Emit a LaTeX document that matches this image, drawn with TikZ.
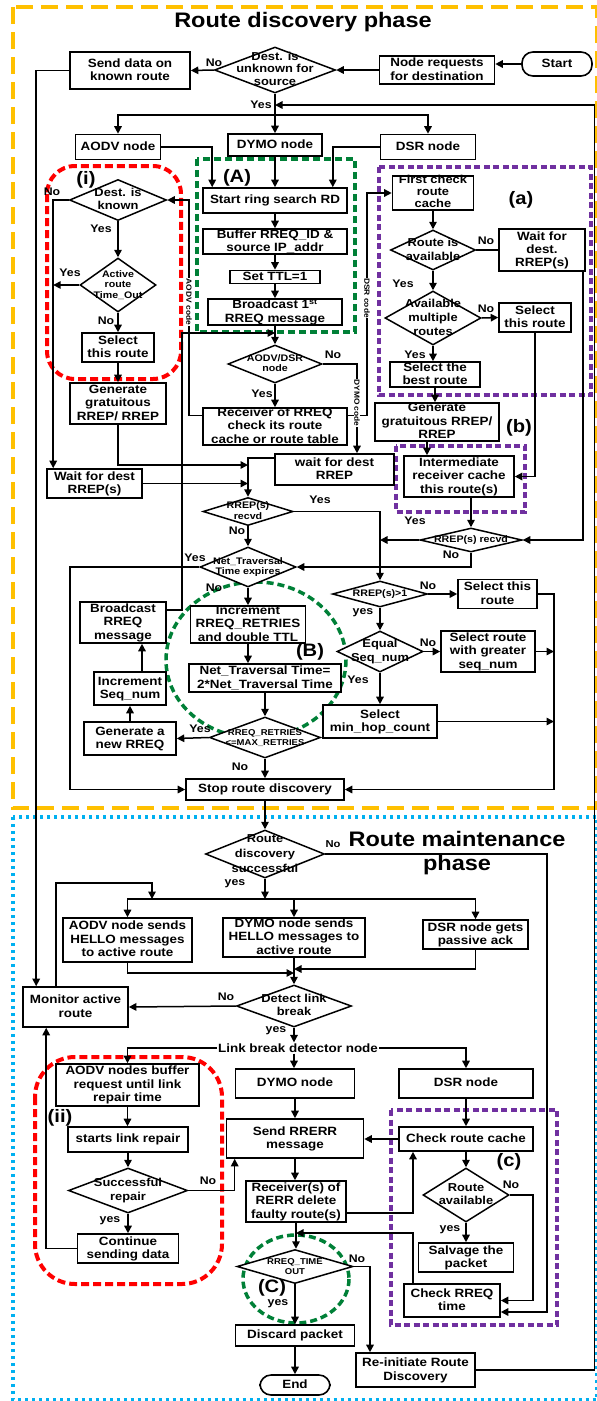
\documentclass[tikz,border=0pt]{standalone}
\usepackage{fontspec}
\setmainfont{Liberation Sans}[FakeStretch=1.12]
\usetikzlibrary{shapes.geometric,arrows.meta}
% centred multi-line text that does not enlarge its node
\newcommand\ftx[1]{\makebox[0pt]{\smash{\raisebox{-0.3em}{\begin{tabular}{@{}c@{}}#1\end{tabular}}}}}
\definecolor{cOrange}{RGB}{255,192,0}
\definecolor{cBlue}{RGB}{0,176,240}
\definecolor{cRed}{RGB}{255,0,0}
\definecolor{cGreen}{RGB}{0,128,55}
\definecolor{cPurple}{RGB}{112,48,160}
\tikzset{
  fA/.style={font=\fontsize{12}{13.5}\selectfont\bfseries},
  fD/.style={font=\fontsize{11.5}{13.5}\selectfont\bfseries},
  fS/.style={font=\fontsize{9.5}{10.5}\selectfont\bfseries},
  fX/.style={font=\fontsize{8.5}{10}\selectfont\bfseries},
  sz/.style 2 args={minimum width=#1pt, minimum height=#2pt},
  box/.style={draw, rectangle, line width=1.6pt, inner sep=0pt, fill=white, fA},
  dia/.style={draw, diamond, line width=1.5pt, inner sep=0pt, fill=white, fD},
  term/.style={box, rounded corners=11pt},
  ln/.style={line width=1.5pt},
  ar/.style={ln, -{Triangle[length=7.5pt,width=7.5pt]}},
  lab/.style={font=\fontsize{11}{12}\selectfont\bfseries, inner sep=0pt},
  tag/.style={font=\fontsize{18}{20}\selectfont\bfseries, inner sep=0pt},
  codel/.style={font=\fontsize{7.5}{8}\selectfont\bfseries, fill=white, inner sep=0.6pt, rotate=-90},
  ttl/.style={font=\fontsize{21}{24}\selectfont\bfseries, inner sep=0pt, align=center},
  regO/.style={draw=cOrange, line width=4pt, dash pattern=on 17pt off 8pt},
  regB/.style={draw=cBlue, line width=3.2pt, dash pattern=on 3pt off 4pt},
  regR/.style={draw=cRed, line width=4pt, dash pattern=on 8pt off 4pt, rounded corners=28pt},
  regG/.style={draw=cGreen, line width=3.5pt, dash pattern=on 7pt off 4pt},
  regP/.style={draw=cPurple, line width=3.2pt, dash pattern=on 6pt off 3.5pt},
}
\begin{document}
\begin{tikzpicture}[x=1pt,y=-1pt]
\useasboundingbox (0,0) rectangle (597,1401);

% ---- phase frames and groupings ----
\draw[regO] (13,7) rectangle (597,808);
\draw[regB] (13,817) rectangle (597,1399.5);
\draw[regR] (47,166) rectangle (181,379);
\draw[regG] (197,159) rectangle (355,332);
\draw[regP] (379,167) rectangle (591,395);
\draw[regP] (396,446) rectangle (525,512);
\draw[regG] (256,660) ellipse [x radius=90, y radius=78];
\draw[regR, rounded corners=40pt] (35,1057) rectangle (222,1284);
\draw[regP] (391,1110) rectangle (557,1325);
\draw[regG] (296,1279) ellipse [x radius=53, y radius=44];

\node[ttl] (t1) at (303,22) {Route discovery phase};
\node[ttl] (t2) at (457,853) {Route maintenance\\phase};

\node[tag] (gi) at (86,180) {(i)};
\node[tag] (gA) at (237,178) {(A)};
\node[tag] (ga) at (521,200) {(a)};
\node[tag] (gb) at (519,428) {(b)};
\node[tag] (gB) at (310,652) {(B)};
\node[tag] (gii) at (60,1118) {(ii)};
\node[tag] (gc) at (509,1162) {(c)};
\node[tag] (gC) at (272,1288) {(C)};

% ---- route discovery: top ----
\node[term, sz={70}{24}] (start) at (557,64) {\ftx{Start}};
\node[box, sz={115}{28}] (nreq) at (437,70) {\ftx{Node requests\\for destination}};
\node[dia, sz={121}{46}, font=\fontsize{11.5}{12.5}\selectfont\bfseries] (d1) at (275,70) {\ftx{Dest. is\\unknown for\\source}};
\node[box, sz={120}{37}] (send) at (130,70.5) {\ftx{Send data on\\known route}};
\node[box, sz={85}{25}] (aodv) at (118,147) {\ftx{AODV node}};
\node[box, sz={94}{22}] (dymo) at (275,145) {\ftx{DYMO node}};
\node[box, sz={95}{25}] (dsr) at (428,147) {\ftx{DSR node}};

% ---- DYMO block (A) ----
\node[box, sz={144}{25}] (ring) at (275,200.5) {\ftx{Start ring search RD}};
\node[box, sz={144}{25}] (buf) at (275,241.5) {\ftx{Buffer RREQ\_ID \&\\source IP\_addr}};
\node[box, sz={90}{13}] (ttl) at (275,277) {\ftx{Set TTL=1}};
\node[box, sz={134}{26}] (bc1) at (275,312) {\ftx{Broadcast 1\textsuperscript{st}\\RREQ message}};
\node[dia, sz={94}{38}, fS] (d2) at (275,364) {\ftx{AODV/DSR\\node}};
\node[box, sz={144}{37}] (recv) at (275,426.5) {\ftx{Receiver of RREQ\\check its route\\cache or route table}};

% ---- AODV block (i) ----
\node[dia, sz={97}{41}] (dk) at (118,200) {\ftx{Dest. is\\known}};
\node[dia, sz={76}{54}, fS] (dat) at (118,285) {\ftx{Active\\route\\Time\_Out}};
\node[box, sz={72}{29}] (selL) at (118,347.5) {\ftx{Select\\this route}};
\node[box, sz={96}{41}] (genL) at (118,403.5) {\ftx{Generate\\gratuitous\\RREP/ RREP}};
\node[box, sz={95}{29}] (waitL) at (94.5,483.5) {\ftx{Wait for dest\\RREP(s)}};
\node[box, sz={119}{31}] (wait2) at (334.5,469.5) {\ftx{wait for dest\\RREP}};

% ---- DSR block (a), (b) ----
\node[box, sz={81}{34}, font=\fontsize{11.5}{12}\selectfont\bfseries] (fc) at (433,193) {\ftx{First check\\route\\cache}};
\node[dia, sz={85}{40}, font=\fontsize{11.5}{14}\selectfont\bfseries] (ra) at (433,250) {\ftx{Route is\\available}};
\node[box, sz={86}{42}, font=\fontsize{12}{13}\selectfont\bfseries] (waitD) at (542,250) {\ftx{Wait for\\dest.\\RREP(s)}};
\node[dia, sz={96}{54}, font=\fontsize{11.5}{14}\selectfont\bfseries] (am) at (433,318) {\ftx{Available\\multiple\\routes}};
\node[box, sz={72}{29}] (selA) at (535,317.5) {\ftx{Select\\this route}};
\node[box, sz={90}{25}] (best) at (435,374.5) {\ftx{Select the\\best route}};
\node[box, sz={124}{38}] (genR2) at (437,422) {\ftx{Generate\\gratuitous RREP/\\RREP}};
\node[box, sz={110}{41}] (inter) at (459,476.5) {\ftx{Intermediate\\receiver cache\\this route(s)}};
\node[dia, sz={102}{24}, fS] (rr2) at (471,540) {\ftx{RREP(s) recvd}};

% ---- reply handling and retries (B) ----
\node[dia, sz={90}{28}, fS] (rr1) at (248,511.5) {\ftx{RREP(s)\\recvd}};
\node[dia, sz={96}{40}, fS] (nt) at (248,567) {\ftx{Net\_Traversal\\Time expires}};
\node[box, sz={115}{37}] (inc) at (248,624.5) {\ftx{Increment\\RREQ\_RETRIES\\and double TTL}};
\node[box, sz={152}{28}] (ntt) at (265,678) {\ftx{Net\_Traversal Time=\\2*Net\_Traversal Time}};
\node[dia, sz={111}{41}, fX] (rr) at (265,737.5) {\ftx{RREQ\_RETRIES\\<=MAX\_RETRIES}};
\node[box, sz={92}{33}] (genR) at (130,738.5) {\ftx{Generate a\\new RREQ}};
\node[box, sz={72}{33}] (incS) at (130,688.5) {\ftx{Increment\\Seq\_num}};
\node[box, sz={86}{41}] (bcR) at (123,622.5) {\ftx{Broadcast\\RREQ\\message}};
\node[box, sz={158}{21}] (stop) at (265,789.5) {\ftx{Stop route discovery}};

\node[dia, sz={95}{26}, fS] (rg1) at (380,594) {\ftx{RREP(s)>1}};
\node[box, sz={79}{29}] (sel3) at (497.5,594) {\ftx{Select this\\route}};
\node[dia, sz={86}{41}, font=\fontsize{11.5}{14}\selectfont\bfseries] (eq) at (380,651.5) {\ftx{Equal\\Seq\_num}};
\node[box, sz={94}{41}] (selG) at (488,651.5) {\ftx{Select route\\with greater\\seq\_num}};
\node[box, sz={114}{33}] (minh) at (380,721.5) {\ftx{Select\\min\_hop\_count}};

% ---- route maintenance ----
\node[dia, sz={119}{48}, font=\fontsize{11.5}{15}\selectfont\bfseries] (rds) at (265,854) {\ftx{Route\\discovery\\successful}};
\node[box, sz={129}{44}] (aodvH) at (127.5,940) {\ftx{AODV node sends\\HELLO messages\\to active route}};
\node[box, sz={142}{39}] (dymoH) at (294,937.5) {\ftx{DYMO node sends\\HELLO messages to\\active route}};
\node[box, sz={105}{29}] (dsrH) at (475.5,934.5) {\ftx{DSR node gets\\passive ack}};
\node[dia, sz={115}{42}] (dl) at (294,1006) {\ftx{Detect link\\break}};
\node[box, sz={105}{40}] (mon) at (75.5,1007) {\ftx{Monitor active\\route}};
\node[fA, inner sep=1pt] (ldn) at (298,1048) {Link break detector node};
\node[box, sz={143}{42}] (bufA) at (127.5,1085) {\ftx{AODV nodes buffer\\request until link\\repair time}};
\node[box, sz={119}{29}] (dymoL) at (295,1083.5) {\ftx{DYMO node}};
\node[box, sz={134}{29}] (dsrL) at (466,1083.5) {\ftx{DSR node}};
\node[box, sz={137}{39}] (srr) at (295,1138.5) {\ftx{Send RRERR\\message}};
\node[box, sz={134}{24}] (crc) at (466,1139) {\ftx{Check route cache}};
\node[dia, sz={86}{54}] (rav) at (466,1195) {\ftx{Route\\available}};
\node[box, sz={95}{29}] (slv) at (466,1257.5) {\ftx{Salvage the\\packet}};
\node[box, sz={96}{33}] (crt) at (452,1300.5) {\ftx{Check RREQ\\time}};
\node[box, sz={120}{25}] (slr) at (128,1139.5) {\ftx{starts link repair}};
\node[dia, sz={119}{45}] (srp) at (128,1190.5) {\ftx{Successful\\repair}};
\node[box, sz={101}{29}] (csd) at (128,1248.5) {\ftx{Continue\\sending data}};
\node[box, sz={100}{41}] (rcv) at (296,1201.5) {\ftx{Receiver(s) of\\RERR delete\\faulty route(s)}};
\node[dia, sz={116}{34}, fX] (rto) at (295,1266.5) {\ftx{RREQ\_TIME\\OUT}};
\node[box, sz={119}{21}] (disc) at (295,1335.5) {\ftx{Discard packet}};
\node[term, sz={70}{20}] (endn) at (295,1385) {\ftx{End}};
\node[box, sz={119}{34}] (ri) at (415.5,1370) {\ftx{Re-initiate Route\\Discovery}};

% ---- junction points ----
\coordinate (j0) at (275,105);
\coordinate (j1) at (275,115);
\coordinate (j6) at (275,333);
\coordinate (k5) at (182,333);
\coordinate (k6) at (189,200);
\coordinate (k7) at (367,193);
\coordinate (k8) at (248,465);
\coordinate (k9) at (70,567);
\coordinate (rc) at (554,594);
\coordinate (k4) at (594.5,1370);
\coordinate (k3) at (547,854);
\coordinate (j2) at (265,899);
\coordinate (k1) at (152,883);
\coordinate (j3) at (294,973);
\coordinate (j4) at (294,969);
\coordinate (k2) at (533,1195);
\coordinate (j5) at (296,1233);

% ---- connectors: discovery ----
\draw[ar] (start.west) -- (start.west -| nreq.east);
\draw[ar] (nreq.west) -- (d1.east);
\draw[ar] (d1.west) -- (send.east);
\draw[ar] (send.west) -| ([xshift=14pt]mon.north west);
\draw[ar] (d1.south) -- (dymo.north);
\draw[ar] (j1) -| (aodv.north);
\draw[ar] (j1) -| (dsr.north);
\draw[ar] (ri.east) -- (k4) |- (j0);

\draw[ar] (aodv.east) -| ([xshift=10pt]ring.north west);
\draw[ar] (dymo.south) -- (ring.north);
\draw[ar] (dsr.west) -| ([xshift=-15pt]ring.north east);
\draw[ar] (ring.south) -- (buf.north);
\draw[ar] (buf.south) -- (ttl.north);
\draw[ar] (ttl.south) -- (bc1.north);
\draw[ar] (bc1.south) -- (d2.north);
\draw[ar] ([yshift=12.5pt]bcR.east) -| (k5) -- (j6);
\draw[ar] (d2.south) -- (recv.north);
\draw[ar] (d2.east) -| ([xshift=22.5pt]wait2.north);
\draw[ar] ([yshift=11pt]recv.west) -| (k6) -- (dk.east);
\draw[ar] ([yshift=11pt]recv.east) -| (k7) -- (fc.west);

\draw[ar] (dk.west) -| ([xshift=7pt]waitL.north west);
\draw[ar] (dk.south) -- (dat.north);
\draw[ar] (dat.west) -- ([xshift=7pt]dat.west -| waitL.north west);
\draw[ar] (dat.south) -- (selL.north);
\draw[ar] (selL.south) -- (genL.north);
\draw[ar] (genL.south) |- (k8);
\draw[ar] (waitL.east) -- (waitL.east -| k8);
\draw[ar] ([yshift=11.5pt]wait2.west) -| (rr1.north);
\draw[ar] (rr1.south) -- (nt.north);
\draw[ar] (rr1.east) -| (rg1.north);
\draw[ar] (nt.west) -- (k9) |- (stop.west);
\draw[ar] (nt.south) -- (inc.north);
\draw[ar] (inc.south) -- (inc.south |- ntt.north);
\draw[ar] (ntt.south) -- (rr.north);
\draw[ar] (rr.west) -- (genR.east);
\draw[ar] (genR.north) -- (incS.south);
\draw[ar] ([xshift=12pt]incS.north) -- ([xshift=12pt]incS.north |- bcR.south);
\draw[ar] (rr.south) -- (stop.north);

\draw[ar] (fc.south) -- (ra.north);
\draw[ln] (ra.east) -- (waitD.west);
\draw[ar] (ra.south) -- (am.north);
\draw[ar] (am.east) -- (selA.west);
\draw[ar] (am.south) -- (am.south |- best.north);
\draw[ar] (best.south) -- (best.south |- genR2.north);
\draw[ar] ([xshift=-10pt]genR2.south) -- ([xshift=-10pt]genR2.south |- inter.north);
\draw[ar] (selA.south) |- (inter.east);
\draw[ar] (rr2.north |- inter.south) -- (rr2.north);
\draw[ar] ([xshift=-3pt]waitD.south east) |- (rr2.east);
\draw[ar] (rr2.west) -- (rr2.west -| rg1.north);
\draw[ar] (rr2.south) |- (nt.east);
\draw[ar] (rg1.east) -- (sel3.west);
\draw[ar] (rg1.south) -- (eq.north);
\draw[ar] (eq.east) -- (selG.west);
\draw[ar] (eq.south) -- (minh.north);
\draw[ar] (sel3.east) -- (rc) |- (stop.east);
\draw[ar] (selG.east) -- (selG.east -| rc);
\draw[ar] (minh.east) -- (minh.east -| rc);

% ---- connectors: maintenance ----
\draw[ar] (stop.south) -- (rds.north);
\draw[ar] (rds.east) -- (k3) |- ([yshift=-11.5pt]crt.east);
\draw[ar] (rds.south) -- (j2);
\draw[ar] (j2) -| (aodvH.north);
\draw[ar] (j2) -| (dsrH.north);
\draw[ar] (dymoH.north |- j2) -- (dymoH.north);
\draw[ar] ([xshift=34pt]mon.north west) |- (k1) -- (k1 |- j2);
\draw[ar] (aodvH.south) |- (j3);
\draw[ar] (dsrH.south) |- (j4);
\draw[ar] (dymoH.south) -- (dl.north);
\draw[ar] (dl.west) -- (mon.east);
\draw[ar] (dl.south) -- (dl.south |- ldn.north);
\draw[ar] (ldn.west) -| (bufA.north);
\draw[ar] (ldn.east) -| (dsrL.north);
\draw[ar] (dl.south |- ldn.south) -- (dl.south |- dymoL.north);
\draw[ar] (dymoL.south) -- (srr.north);
\draw[ar] (dsrL.south) -- (crc.north);
\draw[ar] (crc.west) -- (srr.east |- crc.west);
\draw[ar] (crc.south) -- (rav.north);
\draw[ar] (rav.south) -- (slv.north);
\draw[ar] (rav.east) -- (k2) |- (crt.east);
\draw[ar] (bufA.south) -- (bufA.south |- slr.north);
\draw[ar] (slr.south) -- (srp.north);
\draw[ar] (srp.south) -- (csd.north);
\draw[ar] (csd.west) -| ([xshift=24pt]mon.south west);
\draw[ar] (srp.east) -| ([xshift=9pt]srr.south west);
\draw[ar] (srr.south) -- (srr.south |- rcv.north);
\draw[ar] ([yshift=-11.5pt]rcv.east) -| ([xshift=-53pt]crc.south);
\draw[ar] ([xshift=-39pt]crt.north) |- (j5);
\draw[ar] (rcv.south) -- (rcv.south |- rto.north);
\draw[ar] (rto.east) -| ([xshift=-45.5pt]ri.north);
\draw[ar] (rto.south) -- (disc.north);
\draw[ar] (disc.south) -- (endn.north);

% ---- protocol code labels on the feedback lines ----
\node[codel] (cA) at (189,302) {AODV code};
\node[codel] (cS) at (367,298) {DSR code};
\node[codel] (cY) at (357,403) {DYMO code};

% ---- branch labels ----
\node[lab] (l1) at (214,63) {No};
\node[lab] (l2) at (261,105) {Yes};
\node[lab] (l3) at (52,192) {No};
\node[lab] (l4) at (101,229) {Yes};
\node[lab] (l5) at (70,273) {Yes};
\node[lab] (l6) at (106,321) {No};
\node[lab] (l7) at (333,355) {No};
\node[lab] (l8) at (262,394) {Yes};
\node[lab] (l9) at (486,241) {No};
\node[lab] (l10) at (403,284) {Yes};
\node[lab] (l11) at (486,309) {No};
\node[lab] (l12) at (415,355) {Yes};
\node[lab] (l13) at (320,500) {Yes};
\node[lab] (l14) at (237,531) {No};
\node[lab] (l15) at (195,558) {Yes};
\node[lab] (l16) at (214,588) {No};
\node[lab] (l17) at (415,521) {Yes};
\node[lab] (l18) at (451,555) {No};
\node[lab] (l19) at (428,586) {No};
\node[lab] (l20) at (363,613) {yes};
\node[lab] (l21) at (428,643) {No};
\node[lab] (l22) at (358,680) {Yes};
\node[lab] (l23) at (200,729) {Yes};
\node[lab] (l24) at (240,767) {No};
\node[lab, font=\fontsize{10}{11}\selectfont\bfseries] (l25) at (333,844) {No};
\node[lab] (l26) at (235,884) {yes};
\node[lab] (l27) at (226,997) {No};
\node[lab] (l28) at (276,1031) {yes};
\node[lab] (l29) at (208,1181) {No};
\node[lab] (l30) at (110,1221) {yes};
\node[lab] (l31) at (511,1185) {No};
\node[lab] (l32) at (450,1230) {yes};
\node[lab] (l33) at (357,1259) {No};
\node[lab] (l34) at (278,1304) {yes};
\end{tikzpicture}
\end{document}
